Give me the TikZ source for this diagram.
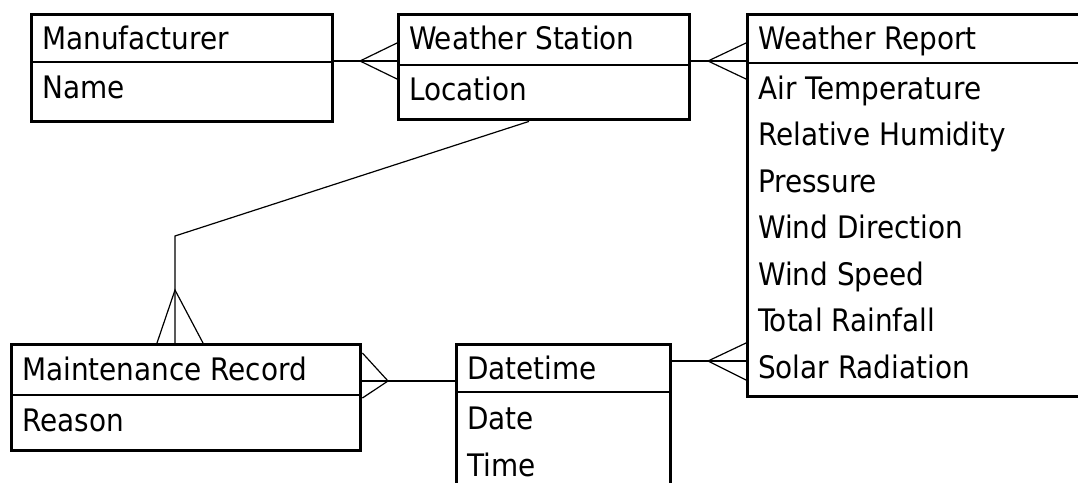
\documentclass[tikz,border=0pt]{standalone}
\usepackage{fontspec}
\setmainfont{DejaVu Sans Condensed}
\usepackage{tikz}
\tikzset{entity/.style = {draw=black, line width=3.4pt, anchor=north west, inner sep=0pt}}
\tikzset{field/.style = {anchor=base west, inner sep=0pt, font=\fontsize{31}{33}\selectfont}}
\tikzset{rule/.style = {line width=1.4pt}}
\tikzset{link/.style = {line width=1.2pt}}

\begin{document}
\begin{tikzpicture}[x=1pt, y=-1pt]
            \clip (0,0) rectangle (1078,482);

            \node [entity, minimum width=301pt, minimum height=107pt] (mfr) at (30, 13) {};
            \node [entity, minimum width=291pt, minimum height=105pt] (stn) at (397, 13) {};
            \node [entity, minimum width=400pt, minimum height=382pt] (rpt) at (746, 13) {};
            \node [entity, minimum width=349pt, minimum height=106pt] (mrec) at (10, 343) {};
            \node [entity, minimum width=214pt, minimum height=200pt] (dtm) at (455, 343) {};

            \draw [rule] (mfr.west |- 0,62) -- (mfr.east |- 0,62);
            \draw [rule] (stn.west |- 0,65) -- (stn.east |- 0,65);
            \draw [rule] (rpt.west |- 0,63) -- (rpt.east |- 0,63);
            \draw [rule] (mrec.west |- 0,395) -- (mrec.east |- 0,395);
            \draw [rule] (dtm.west |- 0,392) -- (dtm.east |- 0,392);

            \node [field] (mfrhead) at (42, 49) {Manufacturer};
            \node [field] (mfrname) at (42, 98) {Name};

            \node [field] (stnhead) at (409, 49) {Weather Station};
            \node [field] (stnloc) at (409, 100) {Location};

            \node [field] (rpthead) at (758, 49) {Weather Report};
            \node [field] (rpt1) at (758, 99) {Air Temperature};
            \node [field] (rpt2) at (758, 145) {Relative Humidity};
            \node [field] (rpt3) at (758, 192) {Pressure};
            \node [field] (rpt4) at (758, 238) {Wind Direction};
            \node [field] (rpt5) at (758, 285) {Wind Speed};
            \node [field] (rpt6) at (758, 331) {Total Rainfall};
            \node [field] (rpt7) at (758, 378) {Solar Radiation};

            \node [field] (mrechead) at (22, 380) {Maintenance Record};
            \node [field] (mrecreason) at (22, 431) {Reason};

            \node [field] (dtmhead) at (467, 379) {Datetime};
            \node [field] (dtmdate) at (467, 429) {Date};
            \node [field] (dtmtime) at (467, 476) {Time};

            \coordinate (ms) at (360, 61);
            \coordinate (sr) at (708, 61);
            \coordinate (dr) at (708, 361);
            \coordinate (md) at (388, 381);
            \coordinate (sm) at (175, 290);
            \coordinate (bend) at (175, 236);

            % one to many
            \draw [link] (mfr.east |- ms) -- (stn.west |- ms);
            \draw [link] (stn.west |- 0,43) -- (ms) -- (stn.west |- 0,79);

            \draw [link] (stn.east |- sr) -- (rpt.west |- sr);
            \draw [link] (rpt.west |- 0,43) -- (sr) -- (rpt.west |- 0,79);

            \draw [link] (dtm.east |- dr) -- (rpt.west |- dr);
            \draw [link] (rpt.west |- 0,343) -- (dr) -- (rpt.west |- 0,380);

            \draw [link] (mrec.east |- md) -- (dtm.west |- md);
            \draw [link] (mrec.east |- 0,353) -- (md) -- (mrec.east |- 0,398);

            \draw [link] (stn.south -| 529,0) -- (bend) -- (mrec.north -| bend);
            \draw [link] (mrec.north -| 157,0) -- (sm) -- (mrec.north -| 203,0);
        \end{tikzpicture}
\end{document}
